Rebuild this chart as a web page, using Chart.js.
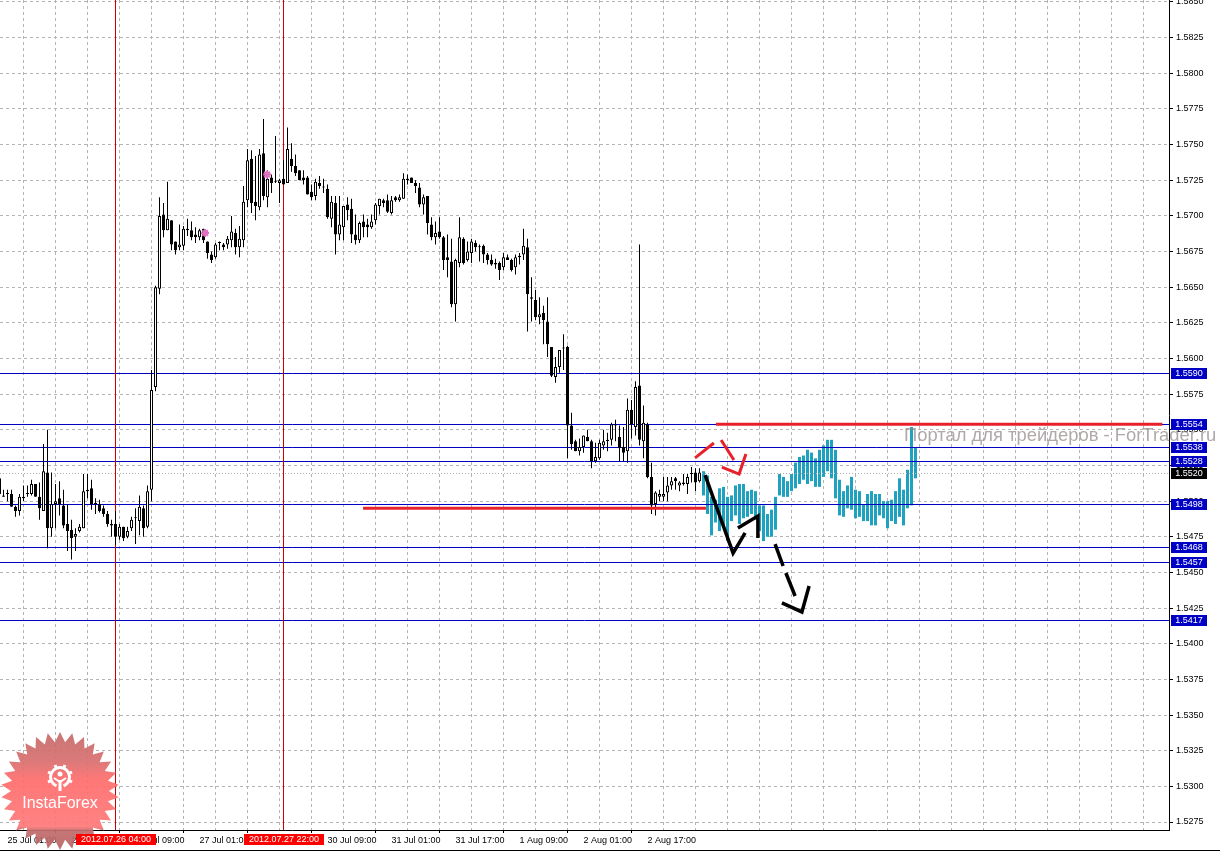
<!DOCTYPE html>
<html>
<head>
<meta charset="utf-8">
<title>GBPUSD H1</title>
<script src="https://cdn.jsdelivr.net/npm/chart.js@4"></script>
<style>
html, body { margin: 0; padding: 0; background: #fff; overflow: hidden; }
canvas { display: block; }
</style>
</head>
<body>
<canvas id="chart" width="1220" height="851"></canvas>
<script>
// candles, one per hour; x value is the bar number, bar 0 = 25 Jul 01:00
const firstCandle = -2;
const opens = [
1.5516,1.5504,1.5505,1.5505,1.5496,1.5493,1.5502,1.5505,1.5505,1.5512,
1.5503,1.5493,1.5520,1.5481,1.5498,1.5502,1.5497,1.5484,1.5480,1.5475,
1.5479,1.5481,1.5508,1.5509,1.5498,1.5498,1.5495,1.5491,1.5484,1.5484,
1.5475,1.5482,1.5475,1.5481,1.5488,1.5486,1.5495,1.5482,1.5508,1.5580,
1.5649,1.5701,1.5690,1.5697,1.5682,1.5678,1.5679,1.5691,1.5690,1.5687,
1.5685,1.5691,1.5682,1.5673,1.5671,1.5681,1.5680,1.5680,1.5683,1.5688,
1.5678,1.5683,1.5711,1.5740,1.5710,1.5706,1.5744,1.5713,1.5727,1.5724,
1.5723,1.5726,1.5723,1.5740,1.5735,1.5732,1.5727,1.5727,1.5717,1.5714,
1.5723,1.5720,1.5719,1.5698,1.5709,1.5687,1.5692,1.5708,1.5705,1.5687,
1.5683,1.5696,1.5694,1.5692,1.5697,1.5707,1.5711,1.5711,1.5702,1.5713,
1.5711,1.5712,1.5726,1.5727,1.5723,1.5720,1.5708,1.5714,1.5694,1.5685,
1.5689,1.5685,1.5671,1.5668,1.5638,1.5667,1.5684,1.5669,1.5674,1.5681,
1.5678,1.5679,1.5673,1.5669,1.5666,1.5667,1.5664,1.5671,1.5669,1.5664,
1.5672,1.5673,1.5678,1.5643,1.5641,1.5629,1.5632,1.5626,1.5608,1.5587,
1.5594,1.5607,1.5608,1.5553,1.5542,1.5535,1.5538,1.5545,1.5542,1.5528,
1.5530,1.5539,1.5542,1.5543,1.5553,1.5545,1.5538,1.5535,1.5564,1.5552,
1.5581,1.5542,1.5554,1.5517,1.5498,1.5503,1.5503,1.5506,1.5511,1.5516,
1.5511,1.5513,1.5512,1.5519,1.5520,1.5514];
const closes = [
1.5505,1.5503,1.5505,1.5496,1.5493,1.5503,1.5503,1.5505,1.5512,1.5503,
1.5495,1.5521,1.5481,1.5498,1.5500,1.5498,1.5483,1.5479,1.5474,1.5477,
1.5482,1.5507,1.5507,1.5498,1.5498,1.5493,1.5491,1.5484,1.5483,1.5475,
1.5482,1.5474,1.5479,1.5487,1.5488,1.5496,1.5481,1.5507,1.5578,1.5650,
1.5700,1.5690,1.5698,1.5680,1.5676,1.5680,1.5691,1.5690,1.5685,1.5685,
1.5690,1.5683,1.5674,1.5669,1.5680,1.5681,1.5678,1.5684,1.5689,1.5678,
1.5684,1.5710,1.5739,1.5709,1.5707,1.5743,1.5714,1.5726,1.5723,1.5724,
1.5725,1.5722,1.5747,1.5735,1.5730,1.5725,1.5725,1.5715,1.5713,1.5724,
1.5721,1.5720,1.5699,1.5710,1.5687,1.5694,1.5707,1.5704,1.5687,1.5683,
1.5695,1.5692,1.5692,1.5696,1.5708,1.5712,1.5709,1.5703,1.5711,1.5711,
1.5713,1.5726,1.5725,1.5723,1.5721,1.5708,1.5713,1.5695,1.5685,1.5688,
1.5685,1.5669,1.5669,1.5638,1.5669,1.5685,1.5667,1.5675,1.5682,1.5678,
1.5678,1.5673,1.5669,1.5666,1.5667,1.5662,1.5671,1.5669,1.5662,1.5671,
1.5671,1.5679,1.5645,1.5642,1.5629,1.5631,1.5627,1.5610,1.5588,1.5594,
1.5606,1.5607,1.5553,1.5540,1.5535,1.5538,1.5546,1.5542,1.5528,1.5531,
1.5541,1.5542,1.5543,1.5554,1.5553,1.5537,1.5534,1.5564,1.5554,1.5580,
1.5543,1.5555,1.5517,1.5497,1.5506,1.5505,1.5505,1.5511,1.5514,1.5514,
1.5513,1.5512,1.5517,1.5519,1.5513,1.5520];
const highs = [
1.5518,1.5508,1.5508,1.5508,1.5497,1.5505,1.5511,1.5511,1.5515,1.5512,
1.5513,1.5540,1.5550,1.5520,1.5512,1.5514,1.5508,1.5498,1.5487,1.5481,
1.5484,1.5519,1.5519,1.5515,1.5502,1.5501,1.5497,1.5493,1.5487,1.5493,
1.5484,1.5482,1.5482,1.5489,1.5495,1.5504,1.5497,1.5511,1.5592,1.5651,
1.5713,1.5709,1.5724,1.5697,1.5682,1.5694,1.5693,1.5698,1.5696,1.5692,
1.5691,1.5691,1.5682,1.5675,1.5681,1.5682,1.5681,1.5686,1.5700,1.5691,
1.5693,1.5721,1.5747,1.5746,1.5742,1.5747,1.5768,1.5732,1.5729,1.5756,
1.5726,1.5739,1.5762,1.5751,1.5743,1.5732,1.5732,1.5728,1.5722,1.5726,
1.5728,1.5726,1.5722,1.5714,1.5714,1.5714,1.5707,1.5713,1.5712,1.5701,
1.5696,1.5701,1.5698,1.5701,1.5709,1.5712,1.5712,1.5715,1.5714,1.5714,
1.5715,1.5730,1.5729,1.5727,1.5725,1.5723,1.5715,1.5714,1.5699,1.5696,
1.5699,1.5686,1.5687,1.5684,1.5670,1.5699,1.5685,1.5682,1.5684,1.5683,
1.5680,1.5680,1.5674,1.5673,1.5670,1.5668,1.5674,1.5673,1.5670,1.5673,
1.5674,1.5691,1.5684,1.5657,1.5648,1.5643,1.5637,1.5643,1.5608,1.5601,
1.5606,1.5617,1.5609,1.5562,1.5543,1.5544,1.5546,1.5550,1.5543,1.5541,
1.5543,1.5550,1.5548,1.5555,1.5557,1.5553,1.5552,1.5572,1.5571,1.5584,
1.5680,1.5567,1.5555,1.5527,1.5507,1.5508,1.5517,1.5517,1.5517,1.5517,
1.5514,1.5519,1.5519,1.5524,1.5523,1.5523];
const lows = [
1.5503,1.5503,1.5500,1.5496,1.5489,1.5490,1.5500,1.5503,1.5504,1.5503,
1.5487,1.5493,1.5467,1.5475,1.5481,1.5490,1.5481,1.5465,1.5459,1.5465,
1.5478,1.5481,1.5502,1.5494,1.5491,1.5492,1.5489,1.5482,1.5475,1.5469,
1.5473,1.5472,1.5474,1.5479,1.5470,1.5476,1.5475,1.5481,1.5500,1.5577,
1.5645,1.5685,1.5690,1.5676,1.5673,1.5676,1.5676,1.5686,1.5683,1.5681,
1.5683,1.5681,1.5670,1.5667,1.5670,1.5676,1.5676,1.5677,1.5678,1.5673,
1.5671,1.5678,1.5706,1.5702,1.5697,1.5704,1.5711,1.5706,1.5716,1.5723,
1.5709,1.5722,1.5723,1.5731,1.5728,1.5725,1.5722,1.5715,1.5711,1.5711,
1.5719,1.5716,1.5698,1.5692,1.5673,1.5683,1.5683,1.5697,1.5681,1.5680,
1.5681,1.5685,1.5685,1.5691,1.5694,1.5701,1.5706,1.5702,1.5701,1.5710,
1.5710,1.5712,1.5722,1.5723,1.5716,1.5706,1.5701,1.5687,1.5683,1.5680,
1.5684,1.5662,1.5657,1.5636,1.5626,1.5664,1.5666,1.5668,1.5667,1.5675,
1.5668,1.5667,1.5666,1.5665,1.5663,1.5655,1.5662,1.5669,1.5661,1.5659,
1.5666,1.5669,1.5619,1.5626,1.5627,1.5624,1.5610,1.5601,1.5587,1.5583,
1.5590,1.5592,1.5530,1.5536,1.5535,1.5532,1.5534,1.5542,1.5523,1.5527,
1.5529,1.5536,1.5535,1.5539,1.5542,1.5528,1.5528,1.5527,1.5544,1.5546,
1.5539,1.5530,1.5516,1.5491,1.5490,1.5500,1.5500,1.5500,1.5508,1.5508,
1.5507,1.5511,1.5505,1.5513,1.5507,1.5513];

// teal forecast bars after the last candle
const firstForecast = 174;
const forecastHighs = [
1.5521,1.5518,1.5503,1.5501,1.5509,1.5510,1.5503,1.5504,1.5511,1.5512,
1.5512,1.5507,1.5508,1.5507,1.5497,1.5497,1.5491,1.5494,1.5503,1.5519,
1.5517,1.5514,1.5519,1.5527,1.5531,1.5532,1.5536,1.5534,1.5530,1.5536,
1.5539,1.5543,1.5543,1.5536,1.5515,1.5507,1.5511,1.5517,1.5508,1.5507,
1.5498,1.5505,1.5507,1.5505,1.5505,1.5500,1.5500,1.5501,1.5507,1.5516,
1.5508,1.5522,1.5552,1.5538];
const forecastLows = [
1.5504,1.5491,1.5476,1.5485,1.5479,1.5483,1.5472,1.5486,1.5490,1.5484,
1.5488,1.5489,1.5491,1.5487,1.5479,1.5472,1.5475,1.5475,1.5480,1.5504,
1.5503,1.5503,1.5507,1.5509,1.5512,1.5515,1.5512,1.5514,1.5510,1.5510,
1.5517,1.5521,1.5516,1.5502,1.5490,1.5489,1.5495,1.5494,1.5488,1.5489,
1.5486,1.5486,1.5483,1.5483,1.5490,1.5488,1.5481,1.5486,1.5484,1.5489,
1.5483,1.5495,1.5497,1.5516];

// levels with a price box on the right axis
const levels = [1.5590, 1.5554, 1.5538, 1.5528, 1.5498, 1.5468, 1.5457, 1.5417];
const lastPrice = 1.5520;

// ticks
const priceTicks = [1.5275,1.5300,1.5325,1.5350,1.5375,1.5400,1.5425,1.5450,1.5475,1.5500,1.5525,
  1.5550,1.5575,1.5600,1.5625,1.5650,1.5675,1.5700,1.5725,1.5750,1.5775,1.5800,1.5825,1.5850];
const timeLabels = ["25 Jul 01:00","25 Jul 17:00","26 Jul 09:00","27 Jul 01:00","27 Jul 17:00","30 Jul 09:00",
  "31 Jul 01:00","31 Jul 17:00","1 Aug 09:00","2 Aug 01:00","2 Aug 17:00"];
const gridEvery = 8;
const labelEvery = 16;
const lastGrid = 288;

// vertical cursors with their date boxes
const cursorBars = [27, 69];
const cursorLabels = ["2012.07.26 04:00", "2012.07.27 22:00"];

// thick red support and resistance
const resistanceX = [177.1, 288.7];
const resistanceY = [1.5554, 1.5554];
const supportX = [88.9, 174.6];
const supportY = [1.5495, 1.5495];

// hand drawn arrows, bar number and price
const blackStrokes = [
  { x: [174.4, 181.4, 184.4], y: [1.55183, 1.54636, 1.54777] },
  { x: [182.6, 187.6, 187.6], y: [1.54812, 1.54896, 1.54742] },
  { x: [191.9, 193.9], y: [1.54699, 1.54545] },
  { x: [194.6, 196.9], y: [1.54496, 1.54335] },
  { x: [193.6, 198.6, 200.4], y: [1.54286, 1.54223, 1.54405] }
];
const redStrokes = [
  { x: [171.9, 176.6], y: [1.55303, 1.55408] },
  { x: [178.4, 181.6], y: [1.55429, 1.55288] },
  { x: [178.6, 182.9, 184.6], y: [1.55239, 1.55190, 1.55331] }
];

// small pink chart marks
const pinkX = [49.4, 64.9];
const pinkY = [1.5688, 1.5729];

const labelFont = { family: "'Liberation Sans', Arial, sans-serif", size: 9 };
const BLUE = "#0000c4";

function pairs(xs, ys) {
  return xs.map(function (x, i) { return { x: x, y: ys[i] }; });
}

const wickData = [];
const bodyData = [];
const bodyColors = [];
for (let i = 0; i < opens.length; i++) {
  const bar = firstCandle + i;
  wickData.push({ x: bar, y: [lows[i], highs[i]] });
  bodyData.push({ x: bar, y: [Math.min(opens[i], closes[i]), Math.max(opens[i], closes[i])] });
  bodyColors.push(closes[i] >= opens[i] ? "#ffffff" : "#000000");
}
const forecastData = [];
for (let i = 0; i < forecastHighs.length; i++) {
  forecastData.push({ x: firstForecast + i, y: [forecastLows[i], forecastHighs[i]] });
}

function strokeSet(strokes, color, width) {
  return strokes.map(function (s) {
    return {
      type: "line", data: pairs(s.x, s.y), borderColor: color, borderWidth: width,
      pointRadius: 0, tension: 0, fill: false, order: 1, borderCapStyle: "butt", borderJoinStyle: "miter"
    };
  });
}

// no room kept for tick labels that hang over the plot edges
function noPadding(scale) {
  scale.paddingLeft = 0;
  scale.paddingRight = 0;
  scale.paddingTop = 0;
  scale.paddingBottom = 0;
}

// blue levels go between the forecast bars and the candles
const levelPlugin = {
  id: "levels",
  beforeDatasetDraw(chart, args) {
    if (args.index !== 1) return;
    const ctx = chart.ctx, area = chart.chartArea, yS = chart.scales.y;
    ctx.save();
    ctx.lineWidth = 1;
    ctx.strokeStyle = "#b0b0b0";
    ctx.setLineDash([1, 2]);
    const ly = Math.round(yS.getPixelForValue(lastPrice)) + 0.5;
    ctx.beginPath(); ctx.moveTo(area.left, ly); ctx.lineTo(area.right, ly); ctx.stroke();
    ctx.setLineDash([]);
    ctx.strokeStyle = BLUE;
    levels.forEach(function (v) {
      const y = Math.round(yS.getPixelForValue(v)) + 0.5;
      ctx.beginPath(); ctx.moveTo(area.left, y); ctx.lineTo(area.right, y); ctx.stroke();
    });
    ctx.strokeStyle = "#cc0000";
    cursorBars.forEach(function (b) {
      const x = Math.round(chart.scales.x.getPixelForValue(b) - 0.5) + 0.5;
      ctx.beginPath(); ctx.moveTo(x, area.top); ctx.lineTo(x, area.bottom); ctx.stroke();
    });
    ctx.restore();
  }
};

function drawLogo(ctx) {
  const cx = 60, cy = 791, R = 59, r = 49, teeth = 30;
  const grad = ctx.createLinearGradient(0, cy - R, 0, cy + R);
  grad.addColorStop(0, "#c46a6a");
  grad.addColorStop(0.25, "#d96e6e");
  grad.addColorStop(0.4, "#ff6c6c");
  grad.addColorStop(0.8, "#ff7878");
  grad.addColorStop(0.84, "#c06a6a");
  grad.addColorStop(1, "#b86464");
  ctx.save();
  ctx.globalAlpha = 0.92;
  ctx.fillStyle = grad;
  ctx.beginPath();
  for (let i = 0; i < teeth * 2; i++) {
    const a = i * Math.PI / teeth - Math.PI / 2;
    const rad = i % 2 ? r : R;
    ctx.lineTo(cx + rad * Math.cos(a), cy + rad * Math.sin(a));
  }
  ctx.closePath();
  ctx.fill();
  ctx.globalAlpha = 1;
  // gear
  const gx = 60, gy = 777;
  ctx.strokeStyle = "#fff";
  ctx.fillStyle = "#fff";
  ctx.lineWidth = 3;
  ctx.beginPath();
  ctx.arc(gx, gy, 9.5, 0.62 * Math.PI, 0.38 * Math.PI);
  ctx.stroke();
  ctx.lineWidth = 3;
  for (let i = 0; i < 8; i++) {
    const a = (i + 0.5) * Math.PI / 4;
    if (Math.abs(a - Math.PI / 2) < 0.5) continue;
    ctx.beginPath();
    ctx.moveTo(gx + 10 * Math.cos(a), gy + 10 * Math.sin(a));
    ctx.lineTo(gx + 13 * Math.cos(a), gy + 13 * Math.sin(a));
    ctx.stroke();
  }
  ctx.lineWidth = 2;
  ctx.beginPath();
  ctx.moveTo(gx - 6, gy + 1); ctx.lineTo(gx, gy + 5); ctx.lineTo(gx + 6, gy + 1);
  ctx.stroke();
  ctx.fillRect(gx - 1.5, gy + 3, 3, 11);
  ctx.beginPath(); ctx.arc(gx, gy - 3, 2.5, 0, 7); ctx.fill();
  ctx.font = "16px 'Liberation Sans', Arial, sans-serif";
  ctx.textAlign = "center";
  ctx.textBaseline = "middle";
  ctx.fillText("InstaForex", cx, 804);
  ctx.restore();
}

// logo, watermark and the boxes along both axes
const overlayPlugin = {
  id: "overlay",
  afterDraw(chart) {
    const ctx = chart.ctx, xS = chart.scales.x, yS = chart.scales.y, area = chart.chartArea;
    ctx.save();
    ctx.strokeStyle = "#000";
    ctx.lineWidth = 1;
    ctx.beginPath(); ctx.moveTo(0, 850.5); ctx.lineTo(1220, 850.5); ctx.stroke();

    ctx.font = "18.4px 'Liberation Sans', Arial, sans-serif";
    ctx.textAlign = "left";
    ctx.textBaseline = "middle";
    ctx.fillStyle = "rgba(150,140,140,0.75)";
    ctx.fillText("Портал для трейдеров - ForTrader.ru", 904, 436);

    drawLogo(ctx);

    ctx.font = "9px 'Liberation Sans', Arial, sans-serif";
    ctx.textBaseline = "middle";
    ctx.textAlign = "center";
    cursorBars.forEach(function (b, i) {
      const x = Math.round(xS.getPixelForValue(b));
      ctx.fillStyle = "#ff0000";
      ctx.fillRect(x - 40, 834, 80, 11);
      ctx.fillStyle = "#fff";
      ctx.fillText(cursorLabels[i], x, 840);
    });

    const boxes = levels.map(function (v) { return { v: v, c: BLUE }; });
    boxes.push({ v: lastPrice, c: "#000" });
    boxes.forEach(function (b) {
      const y = Math.round(yS.getPixelForValue(b.v));
      ctx.fillStyle = b.c;
      ctx.fillRect(area.right + 2, y - 5, 36, 11);
      ctx.fillStyle = "#fff";
      ctx.fillText(b.v.toFixed(4), area.right + 20, y + 0.5);
    });
    ctx.restore();
  }
};

const gridColor = "#b8b2b4";

new Chart(document.getElementById("chart").getContext("2d"), {
  type: "bar",
  data: {
    datasets: [
      { data: forecastData, backgroundColor: "#1ea2c0", barThickness: 3, grouped: false, inflateAmount: 0, order: 5 },
      { data: wickData, backgroundColor: "#000", barThickness: 1, grouped: false, inflateAmount: 0, order: 4 },
      { data: bodyData, backgroundColor: bodyColors, borderColor: "#000", borderWidth: 1, borderSkipped: false,
        barThickness: 3, minBarLength: 1, grouped: false, inflateAmount: 0, order: 3 },
      { type: "line", data: pairs(pinkX, pinkY), showLine: false, pointStyle: "star", pointRadius: 4,
        borderColor: "#e070c0", borderWidth: 2, order: 2 },
      { type: "line", data: pairs(resistanceX, resistanceY), borderColor: "#e8202a", borderWidth: 3, pointRadius: 0, order: 1 },
      { type: "line", data: pairs(supportX, supportY), borderColor: "#e8202a", borderWidth: 3, pointRadius: 0, order: 1 }
    ].concat(strokeSet(blackStrokes, "#000", 3.5), strokeSet(redStrokes, "#e8202a", 3))
  },
  plugins: [levelPlugin, overlayPlugin],
  options: {
    responsive: false,
    animation: false,
    layout: { padding: 0, autoPadding: false },
    plugins: { legend: { display: false }, tooltip: { enabled: false } },
    scales: {
      x: {
        type: "linear",
        offset: false,
        min: -1.875,
        max: 290.375,
        afterFit(scale) { scale.height = 21; noPadding(scale); },
        afterBuildTicks(scale) {
          const t = [];
          for (let v = 0; v <= lastGrid; v += gridEvery) t.push({ value: v });
          scale.ticks = t;
        },
        border: { display: true, color: "#000", width: 1, dash: [3, 3] },
        grid: {
          color: gridColor,
          lineWidth: 1,
          tickLength: 3,
          tickColor(c) { return c.tick && timeLabels[c.tick.value / labelEvery] ? "#000" : "rgba(0,0,0,0)"; }
        },
        ticks: {
          autoSkip: false,
          maxRotation: 0,
          align: "start",
          padding: 2,
          color: "#000",
          font: labelFont,
          callback(v) { return timeLabels[v / labelEvery] || ""; }
        }
      },
      y: {
        position: "right",
        min: 1.52694,
        max: 1.58514,
        afterFit(scale) { scale.width = 51; noPadding(scale); },
        afterBuildTicks(scale) { scale.ticks = priceTicks.map(function (v) { return { value: v }; }); },
        border: { display: true, color: "#000", width: 1, dash: [3, 3] },
        grid: { color: gridColor, lineWidth: 1, tickLength: 4, tickColor: "#000" },
        ticks: {
          autoSkip: false,
          padding: 3,
          color: "#000",
          font: labelFont,
          callback(v) { return v.toFixed(4); }
        }
      }
    }
  }
});
</script>
</body>
</html>
